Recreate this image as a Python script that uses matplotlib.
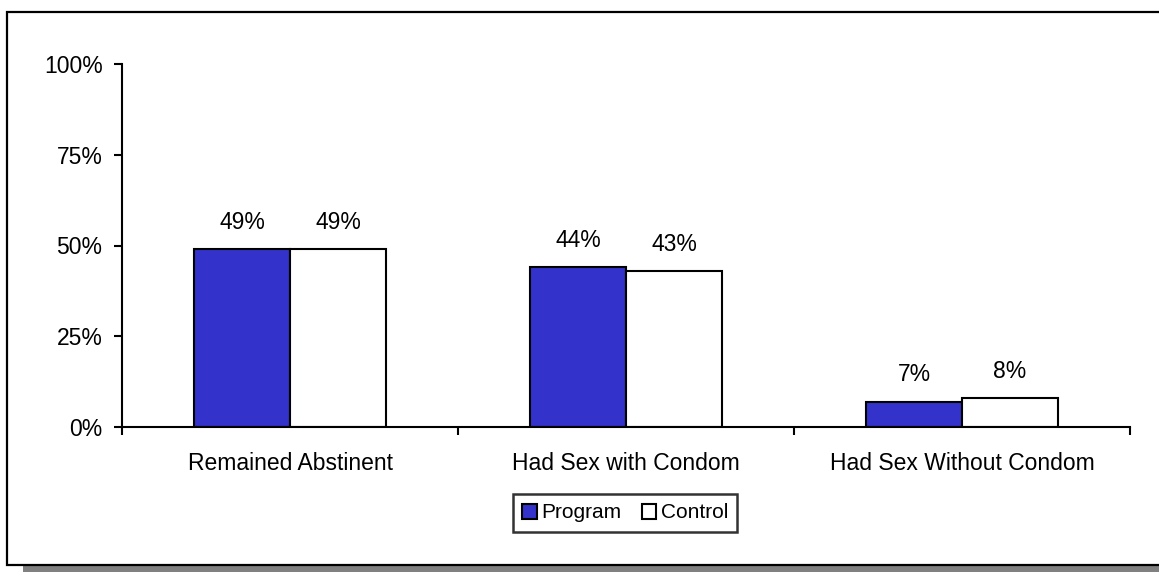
import numpy as np
import matplotlib
matplotlib.use("Agg")
import matplotlib.pyplot as plt
from matplotlib.patches import Rectangle

# Datos
categorias = ["Remained Abstinent", "Had Sex with Condom", "Had Sex Without Condom"]
program = [49, 44, 7]
control = [49, 43, 8]
series = ["Program", "Control"]
yticks = [0, 25, 50, 75, 100]

plt.rcParams['font.family'] = ['Liberation Sans', 'DejaVu Sans']

W, H = 1159, 572
fig = plt.figure(figsize=(W / 100, H / 100), dpi=100)

# Marco exterior con sombra
fig.patches.append(Rectangle((23 / W, 0), 1.0, 7 / H, transform=fig.transFigure,
                             facecolor='#808080', edgecolor='none', zorder=0))
fig.patches.append(Rectangle((7 / W, 7 / H), 1.0, (565 - 12) / H, transform=fig.transFigure,
                             facecolor='white', edgecolor='black', linewidth=1.6, zorder=1))

ax = fig.add_axes([122 / W, 1 - 427 / H, (1130 - 122) / W, (427 - 64) / H])
ax.set_zorder(2)
ax.patch.set_visible(False)

x = np.arange(len(categorias))
w = 96 / 336
b1 = ax.bar(x - w / 2, program, w, color='#3333CC', edgecolor='black', linewidth=1.5, label=series[0])
b2 = ax.bar(x + w / 2, control, w, color='white', edgecolor='black', linewidth=1.5, label=series[1])

for bars, vals in [(b1, program), (b2, control)]:
    for r, v in zip(bars, vals):
        ax.annotate(f"{v}%", (r.get_x() + r.get_width() / 2, v), xytext=(0, 11),
                    textcoords='offset points', ha='center', va='bottom', fontsize=16.5)

ax.set_xlim(-0.5, len(categorias) - 0.5)
ax.set_ylim(0, 100)
ax.set_yticks(yticks)
ax.set_yticklabels([f"{t}%" for t in yticks], fontsize=16.5)
ax.set_xticks(np.arange(len(categorias) + 1) - 0.5)
ax.set_xticklabels([])
ax.set_xticks(x, minor=True)
ax.set_xticklabels(categorias, minor=True, fontsize=16.5)
ax.tick_params(axis='x', which='minor', length=0, pad=18)
ax.tick_params(axis='x', which='major', direction='out', length=6, width=1.5)
ax.tick_params(axis='y', direction='out', length=6, width=1.5, pad=8)

for s in ['top', 'right']:
    ax.spines[s].set_visible(False)
for s in ['left', 'bottom']:
    ax.spines[s].set_linewidth(1.5)

leg = fig.legend(loc='center', bbox_to_anchor=(625 / W, 1 - 513 / H), ncol=2, fontsize=15,
                 frameon=True, fancybox=False, edgecolor='black', handlelength=0.7,
                 handleheight=0.7, handletextpad=0.2, columnspacing=1.0, borderpad=0.45,
                 borderaxespad=0)
leg.get_frame().set_linewidth(1.8)
leg.set_zorder(3)

plt.savefig("out.png", dpi=100)
